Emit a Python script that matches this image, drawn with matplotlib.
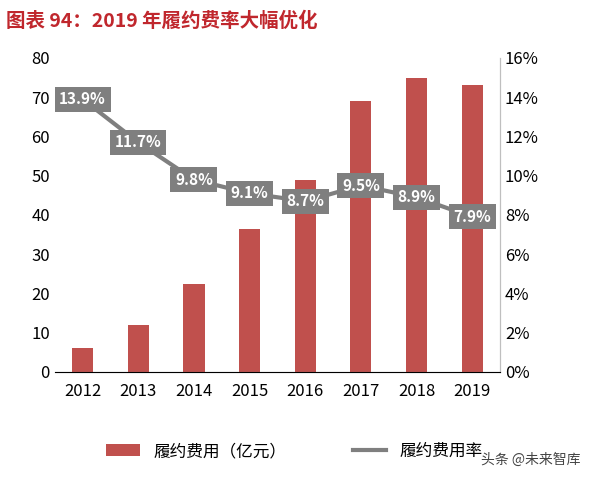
import matplotlib.pyplot as plt
import numpy as np

plt.rcParams['font.family'] = ['Noto Sans CJK SC', 'DejaVu Sans']

years = ["2012", "2013", "2014", "2015", "2016", "2017", "2018", "2019"]
fee = [6, 12, 22.5, 36.5, 49, 69, 75, 73]
rate = [13.9, 11.7, 9.8, 9.1, 8.7, 9.5, 8.9, 7.9]

bar_color = "#C0504D"
line_color = "#7F7F7F"

fig = plt.figure(figsize=(5.89, 4.83), dpi=100)
ax = fig.add_axes([0.093, 0.23, 0.756, 0.65])
x = np.arange(len(years))
ax.bar(x, fee, width=0.38, color=bar_color, label="履约费用（亿元）")
ax.set_ylim(0, 80)
ax.set_yticks(range(0, 81, 10))
ax.set_xlim(-0.5, len(years) - 0.5)
ax.set_xticks(x)
ax.set_xticklabels(years)
ax.tick_params(labelsize=12, length=0)
ax.tick_params(axis="x", pad=8)
for s in ["top", "left"]:
    ax.spines[s].set_visible(False)
for s in ["right", "bottom"]:
    ax.spines[s].set_color("#BFBFBF")

ax2 = ax.twinx()
ax2.plot(x, rate, color=line_color, lw=3, label="履约费用率")
ax2.set_ylim(0, 16)
ax2.set_yticks(range(0, 17, 2))
ax2.set_yticklabels([f"{v}%" for v in range(0, 17, 2)])
ax2.tick_params(labelsize=12, length=0)
for s in ["top", "left"]:
    ax2.spines[s].set_visible(False)
ax2.spines["right"].set_color("#BFBFBF")
for xi, r in zip(x, rate):
    ax2.text(xi, r, f"{r}%", ha="center", va="center", color="white",
             fontsize=11, fontweight="bold",
             bbox=dict(boxstyle="square,pad=0.3", fc=line_color, ec="none"))

fig.text(0.01, 0.955, "图表 94：2019 年履约费率大幅优化", color="#C0272D",
         fontsize=14, fontweight="bold", style="italic", va="center")

h1, l1 = ax.get_legend_handles_labels()
h2, l2 = ax2.get_legend_handles_labels()
fig.legend(h1 + h2, l1 + l2, loc="center", bbox_to_anchor=(0.5, 0.065),
           ncol=2, frameon=False, fontsize=12, columnspacing=4)
fig.text(0.985, 0.04, "头条 @未来智库", ha="right", fontsize=10, color="#444444")

fig.savefig("out.png", dpi=100)
